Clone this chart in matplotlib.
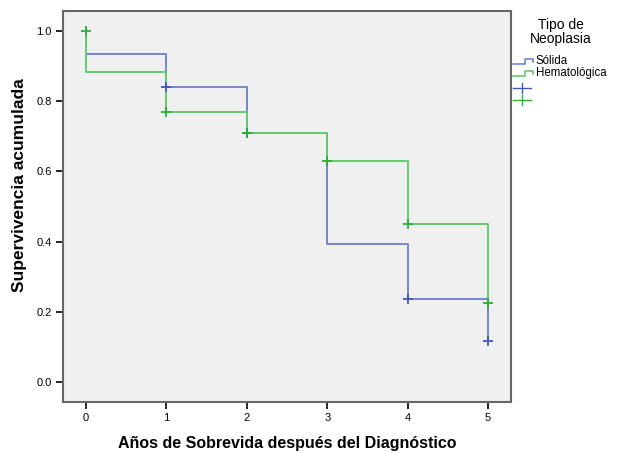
import matplotlib
matplotlib.use("Agg")
from matplotlib import pyplot as plt
from matplotlib.lines import Line2D

plt.rcParams['font.family'] = ['Liberation Sans', 'DejaVu Sans']

# Kaplan-Meier curves (time in years, cumulative survival)
TIMES = [0, 0, 1, 2, 3, 4, 5]
SOLIDA = [1.0, 0.935, 0.840, 0.708, 0.394, 0.236, 0.118]
HEMATO = [1.0, 0.884, 0.769, 0.708, 0.630, 0.450, 0.225]

# censored marks
SOLIDA_CENS_T = [1, 2, 4, 5]
SOLIDA_CENS_S = [0.840, 0.708, 0.236, 0.118]
HEMATO_CENS_T = [0, 1, 2, 3, 4, 5]
HEMATO_CENS_S = [1.0, 0.769, 0.708, 0.630, 0.450, 0.225]

X_TICKS = [0, 1, 2, 3, 4, 5]
Y_TICKS = [0.0, 0.2, 0.4, 0.6, 0.8, 1.0]

BLUE = '#7486cf'
BLUE_DARK = '#4258b8'
GREEN = '#62cc6c'
GREEN_DARK = '#25b236'

W, H = 619, 453
fig = plt.figure(figsize=(W / 100, H / 100), dpi=100)
ax = fig.add_axes([63 / W, 1 - 402 / H, (511 - 63) / W, (402 - 11) / H])
ax.set_facecolor('#f0f0f0')

ax.step(TIMES, SOLIDA, where='post', color=BLUE, lw=1.4)
ax.step(TIMES, HEMATO, where='post', color=GREEN, lw=1.4)
ax.plot(SOLIDA_CENS_T, SOLIDA_CENS_S, ls='none', marker='+', ms=6.5, mew=1.3, color=BLUE_DARK)
ax.plot(HEMATO_CENS_T, HEMATO_CENS_S, ls='none', marker='+', ms=6.5, mew=1.3, color=GREEN_DARK)

ax.set_xlim(-0.286, 5.286)
ax.set_ylim(-0.057, 1.057)
ax.set_xticks(X_TICKS)
ax.set_xticklabels([str(t) for t in X_TICKS])
ax.set_yticks(Y_TICKS)
ax.set_yticklabels(['%.1f' % v for v in Y_TICKS])
ax.tick_params(length=5, width=1.2, labelsize=8, color='black', pad=3)
for s in ax.spines.values():
    s.set_color('#666666')
    s.set_linewidth(1.5)

ax.set_xlabel('Años de Sobrevida después del Diagnóstico', fontsize=11.5, fontweight='bold', labelpad=9)
ax.set_ylabel('Supervivencia acumulada', fontsize=12.5, fontweight='bold')
ax.yaxis.set_label_coords(-0.080, 0.555)

# legend drawn by hand to the right of the plot
def fx(px):
    return px / W

def fy(py):
    return 1 - py / H

fig.text(fx(561), fy(25), 'Tipo de', ha='center', va='center', fontsize=10)
fig.text(fx(561), fy(39), 'Neoplasia', ha='center', va='center', fontsize=10)

for col, yl, label in [(BLUE, 62, 'Sólida'), (GREEN, 74, 'Hematológica')]:
    fig.lines.append(Line2D([fx(513), fx(525), fx(525), fx(533), fx(533)],
                            [fy(yl + 2), fy(yl + 2), fy(yl - 3), fy(yl - 3), fy(yl)],
                            color=col, lw=1.2, transform=fig.transFigure))
    fig.text(fx(536), fy(yl - 1), label, ha='left', va='center', fontsize=8.3)

for col, yl in [(BLUE_DARK, 88), (GREEN_DARK, 100)]:
    fig.lines.append(Line2D([fx(513), fx(531)], [fy(yl), fy(yl)], color=col, lw=1.0,
                            transform=fig.transFigure))
    fig.lines.append(Line2D([fx(522), fx(522)], [fy(yl - 5), fy(yl + 5)], color=col, lw=1.0,
                            transform=fig.transFigure))

fig.savefig('out.png', dpi=100)
